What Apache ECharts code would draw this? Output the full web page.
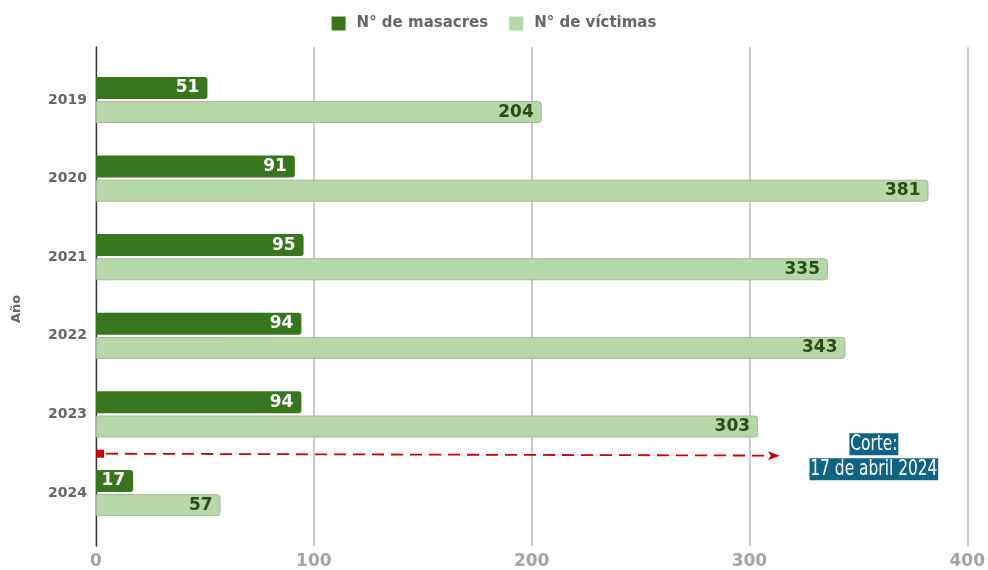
<!DOCTYPE html>
<html>
<head>
<meta charset="utf-8">
<script src="https://cdn.jsdelivr.net/npm/echarts@6/dist/echarts.min.js"></script>
<style>
  html, body { margin: 0; padding: 0; background: #fff; }
  #chart { width: 988px; height: 570px; }
</style>
</head>
<body>
<div id="chart"></div>
<script>
// Masacres y víctimas por año
const years = ['2019', '2020', '2021', '2022', '2023', '2024'];
const masacres = [51, 91, 95, 94, 94, 17];
const victimas = [204, 381, 335, 343, 303, 57];
const xMin = 0, xMax = 400, xStep = 100;
const corteText = ['Corte:', '17 de abril 2024'];
const arrowEndValue = 313;

const FONT = '"DejaVu Sans", "Liberation Sans", sans-serif';
const NARROW = '"DejaVu Sans Condensed", "DejaVu Sans", sans-serif';

const chart = echarts.init(document.getElementById('chart'), null, { renderer: 'canvas' });

chart.setOption({
  animation: false,
  backgroundColor: '#ffffff',
  textStyle: { fontFamily: FONT },
  legend: {
    top: 11,
    left: 'center',
    itemWidth: 14,
    itemHeight: 14,
    itemGap: 21,
    icon: 'rect',
    textStyle: { fontFamily: FONT, fontSize: 15, fontWeight: 'bold', color: '#666666', padding: [0, 0, 0, 6] },
    data: [
      { name: 'N° de masacres', itemStyle: { borderWidth: 0 } },
      { name: 'N° de víctimas', itemStyle: { borderWidth: 0 } }
    ]
  },
  grid: [
    // frame for gridlines and value labels
    { left: 96, right: 18, top: 47, bottom: 23 },
    // bars
    { left: 96, right: 18, top: 60.7, bottom: 37.7 }
  ],
  xAxis: [
    {
      gridIndex: 0, type: 'value', min: xMin, max: xMax, interval: xStep,
      axisLine: { show: false }, axisTick: { show: false },
      splitLine: { show: true, lineStyle: { color: '#bdbdbd', width: 1.6 } },
      axisLabel: { fontFamily: FONT, fontSize: 17, fontWeight: 'bold', color: '#a3a3a3', margin: 7 }
    },
    {
      gridIndex: 1, type: 'value', min: xMin, max: xMax, interval: xStep,
      show: false, splitLine: { show: false }
    }
  ],
  yAxis: [
    {
      gridIndex: 0, type: 'value', min: 0, max: 1,
      axisLine: { show: true, onZero: false, lineStyle: { color: '#333333', width: 1.3 } },
      axisTick: { show: false }, axisLabel: { show: false }, splitLine: { show: false }
    },
    {
      gridIndex: 1, type: 'category', data: years, inverse: true,
      axisLine: { show: false }, axisTick: { show: false },
      axisLabel: { fontFamily: FONT, fontSize: 14, fontWeight: 'bold', color: '#666666', margin: 9 }
    }
  ],
  series: [
    {
      name: 'N° de masacres', type: 'bar', xAxisIndex: 1, yAxisIndex: 1,
      data: masacres, barWidth: 22, barGap: '10%',
      itemStyle: { color: '#38761d', borderRadius: [0, 3, 3, 0] },
      label: {
        show: true, position: 'insideRight', distance: 8,
        fontFamily: FONT, fontSize: 17, fontWeight: 'bold', color: '#ffffff'
      }
    },
    {
      name: 'N° de víctimas', type: 'bar', xAxisIndex: 1, yAxisIndex: 1,
      data: victimas, barWidth: 22, barGap: '10%',
      itemStyle: { color: '#b6d7a8', borderColor: '#a2b89a', borderWidth: 1, borderRadius: [0, 3, 3, 0] },
      label: {
        show: true, position: 'insideRight', distance: 8,
        fontFamily: FONT, fontSize: 17, fontWeight: 'bold', color: '#274e13'
      }
    }
  ]
});

// Cut-off annotation: dashed arrow between 2023 and 2024 plus a label box
const finder = { xAxisIndex: 1, yAxisIndex: 1 };
const pA = chart.convertToPixel(finder, [xMin, 4]);
const pB = chart.convertToPixel(finder, [xMin, 5]);
const pEnd = chart.convertToPixel(finder, [arrowEndValue, 4]);
const yMid = (pA[1] + pB[1]) / 2;
const x0 = pA[0];
const x1 = pEnd[0];
const y1 = yMid + 2;
const labelPos = chart.convertToPixel(finder, [356, 4]);

chart.setOption({
  graphic: [
    {
      type: 'rect', z: 10,
      shape: { x: x0, y: yMid - 4, width: 8, height: 8 },
      style: { fill: '#cc0000' }
    },
    {
      type: 'line', z: 10,
      shape: { x1: x0 + 10, y1: yMid, x2: x1 - 8, y2: y1 - 0.1 },
      style: { stroke: '#cc0000', lineWidth: 1.8, lineDash: [12, 7] }
    },
    {
      type: 'polygon', z: 10,
      shape: { points: [[x1, y1], [x1 - 12, y1 - 4.5], [x1 - 9, y1], [x1 - 12, y1 + 4.5]] },
      style: { fill: '#cc0000' }
    },
    {
      type: 'text', z: 10,
      x: labelPos[0], y: yMid - 22,
      scaleX: 0.78,
      style: {
        text: '{a|' + corteText[0] + '}\n{a|' + corteText[1] + '}',
        align: 'center', verticalAlign: 'top',
        rich: {
          a: {
            fontFamily: NARROW, fontSize: 22, lineHeight: 25,
            fill: '#ffffff', backgroundColor: '#0f6385', padding: [0, 1, 0, 1]
          }
        }
      }
    },
    {
      type: 'text', z: 10,
      x: 17, y: 309, rotation: Math.PI / 2,
      style: {
        text: 'Año', align: 'center', verticalAlign: 'middle',
        fontFamily: FONT, fontSize: 13, fontWeight: 'bold', fill: '#666666'
      }
    }
  ]
});
</script>
</body>
</html>
